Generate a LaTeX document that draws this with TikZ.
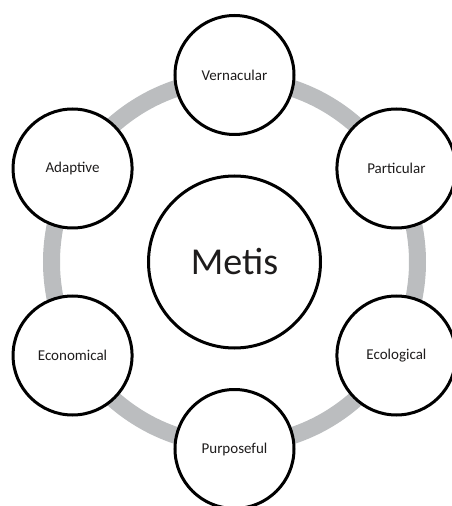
\documentclass[tikz,border=0pt]{standalone}
\usepackage{fontspec}
\setmainfont{Carlito}
\usepackage{xcolor}
\usepackage{tikz}
\usetikzlibrary{
  positioning,
  calc
}

\definecolor{ringgray}{RGB}{187,189,191}
\definecolor{textdark}{RGB}{30,28,28}

\begin{document}
\begin{tikzpicture}[
  x=1pt, y=1pt,
  core/.style={
    circle,
    draw=black,
    fill=white,
    line width=3pt,
    minimum size=172pt,
    text=textdark,
    font=\fontsize{38}{44}\selectfont
  },
  facet/.style={
    circle,
    draw=black,
    fill=white,
    line width=3pt,
    minimum size=119pt,
    inner sep=0pt,
    text=textdark,
    font=\fontsize{15}{18}\selectfont
  },
  ring/.style={
    draw=ringgray,
    line width=17pt
  }
]
\useasboundingbox (-234.5,-244) rectangle (217.5,262);

% Centre
\node[core] (metis) at (0,0) {Metis};

% Ring behind the facets
\draw[ring] (metis.center) circle (183pt);

% Facets
\node[facet] (vern) at ($(metis)+(90:187)$) {Vernacular};
\node[facet] (part) at ($(metis)+(30:187)$) {Particular};
\node[facet] (ecol) at ($(metis)+(-30:187)$) {Ecological};
\node[facet] (purp) at ($(metis)+(-90:187)$) {Purposeful};
\node[facet] (econ) at ($(metis)+(-150:187)$) {Economical};
\node[facet] (adap) at ($(metis)+(150:187)$) {Adaptive};

\end{tikzpicture}
\end{document}
